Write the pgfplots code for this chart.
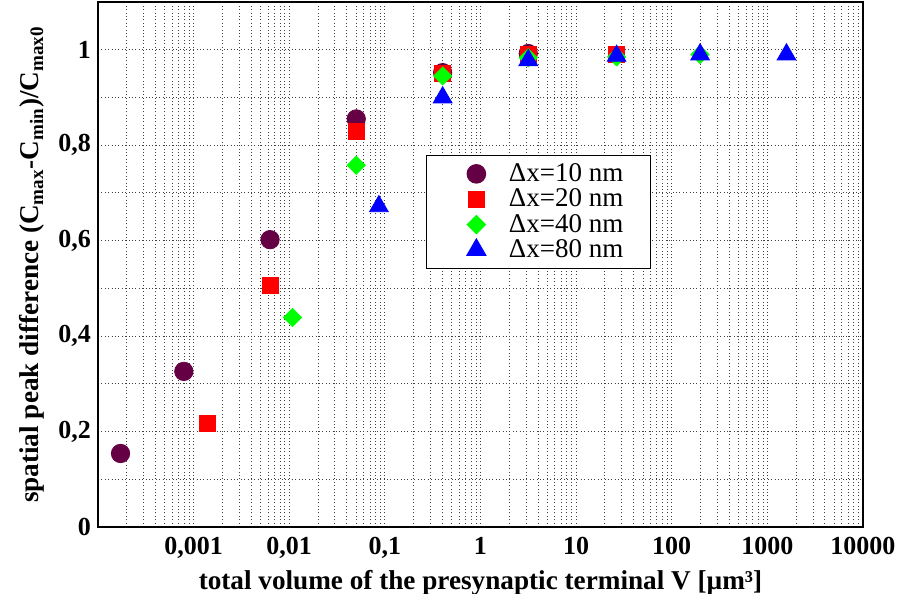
\documentclass[border=0pt]{standalone}
\usepackage{fontspec}
\setmainfont{Liberation Serif}
\usepackage{pgfplots}
\pgfplotsset{compat=1.18}

\definecolor{cten}{RGB}{102,0,68}
\definecolor{ctwenty}{RGB}{255,0,0}
\definecolor{cforty}{RGB}{0,255,0}
\definecolor{ceighty}{RGB}{0,0,255}

\begin{document}
\begin{tikzpicture}
\begin{axis}[
  name=ax,
  xmode=log,
  scale only axis,
  width=382.5pt, height=262.5pt,
  xmin=1e-4, xmax=1e4,
  ymin=0, ymax=1.1,
  xtick={1e-3,1e-2,1e-1,1,10,100,1000,10000},
  xticklabels={{0,001},{0,01},{0,1},1,10,100,1000,10000},
  minor xtick={2e-4,3e-4,4e-4,5e-4,6e-4,7e-4,8e-4,9e-4,
               2e-3,3e-3,4e-3,5e-3,6e-3,7e-3,8e-3,9e-3,
               2e-2,3e-2,4e-2,5e-2,6e-2,7e-2,8e-2,9e-2,
               0.2,0.3,0.4,0.5,0.6,0.7,0.8,0.9,
               2,3,4,5,6,7,8,9,
               20,30,40,50,60,70,80,90,
               200,300,400,500,600,700,800,900,
               2000,3000,4000,5000,6000,7000,8000,9000},
  ytick={0,0.2,0.4,0.6,0.8,1},
  yticklabels={0,{0,2},{0,4},{0,6},{0,8},1},
  minor ytick={0.1,0.3,0.5,0.7,0.9},
  grid=both,
  major grid style={black!75, line width=0.45pt, dash pattern=on 0.5pt off 1.2pt},
  minor grid style={black!75, line width=0.45pt, dash pattern=on 0.5pt off 1.2pt},
  axis line style={line width=1.2pt},
  tick style={draw=none},
  ticklabel style={font=\bfseries\fontsize{13}{15}\selectfont},
  xticklabel style={yshift=-1.5pt},
  label style={font=\bfseries\fontsize{13.6}{15}\selectfont},
  xlabel style={yshift=1pt},
  legend style={at={(0.429,0.709)}, anchor=north west, draw=black, line width=0.6pt,
    fill=white, font=\fontsize{13.5}{15}\selectfont, row sep=-1.8pt, inner xsep=11.5pt},
  legend cell align=left,
  legend image code/.code={\path (-13pt,0pt) (14pt,0pt); \draw[#1] plot coordinates {(0pt,0pt)};},
  xlabel={total volume of the presynaptic terminal V [µm³]},
  ylabel={spatial peak difference (C\textsubscript{max}-C\textsubscript{min})/C\textsubscript{max0}},
]
% dx = 10 nm
\addplot[only marks, mark=*, mark size=4.6pt, color=cten] coordinates {
  (1.72e-4,0.154) (7.9e-4,0.326) (6.3e-3,0.602) (0.0502,0.855) (0.402,0.952) (3.16,0.992)
};
\addlegendentry{Δx=10 nm}
% dx = 20 nm
\addplot[only marks, mark=square*, mark size=4pt, color=ctwenty] coordinates {
  (1.38e-3,0.218) (6.3e-3,0.506) (0.0502,0.829) (0.402,0.95) (3.16,0.99) (26.5,0.99)
};
\addlegendentry{Δx=20 nm}
% dx = 40 nm
\addplot[only marks, mark=square*, mark size=3.2pt, mark options={rotate=45}, color=cforty] coordinates {
  (0.0108,0.439) (0.0502,0.758) (0.402,0.945) (3.16,0.983) (26.5,0.985) (198,0.99)
};
\addlegendentry{Δx=40 nm}
% dx = 80 nm
\addplot[only marks, mark=triangle*, mark size=5.4pt, color=ceighty] coordinates {
  (0.0866,0.672) (0.402,0.90) (3.16,0.978) (26.5,0.987) (198,0.99) (1585,0.99)
};
\addlegendentry{Δx=80 nm}
\end{axis}
\pgfresetboundingbox
\path[use as bounding box] ([shift={(-49pt,-33.5pt)}]ax.south west) rectangle ([shift={(19.5pt,1pt)}]ax.north east);
\end{tikzpicture}
\end{document}
